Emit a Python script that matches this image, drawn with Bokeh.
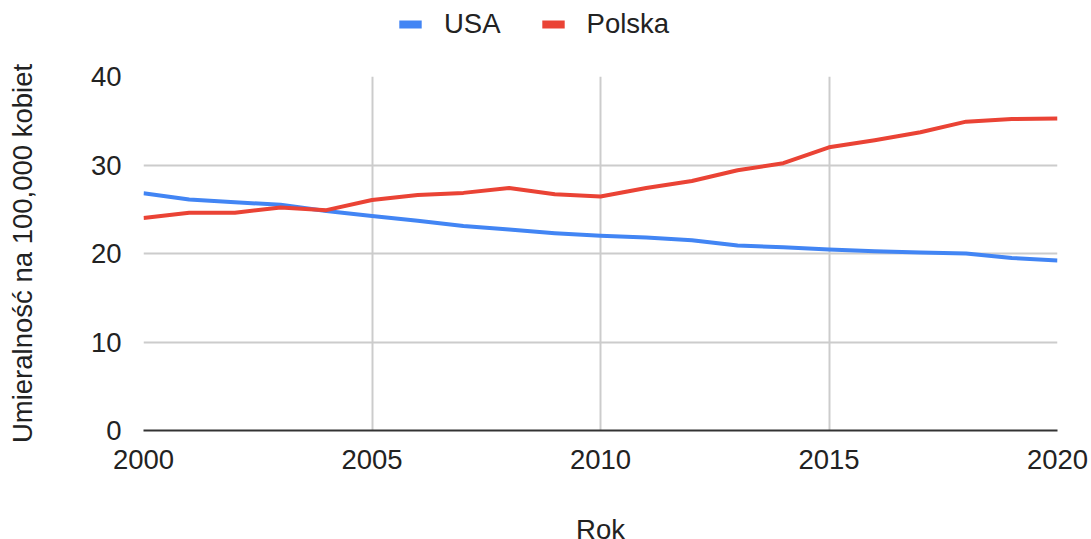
from bokeh.plotting import figure
from bokeh.layouts import column
from bokeh.models import Legend, LegendItem, ColumnDataSource, FixedTicker
from bokeh.embed import file_html
from bokeh.resources import INLINE

years = list(range(2000, 2021))
usa = [26.8, 26.1, 25.8, 25.5, 24.8, 24.25, 23.7, 23.1, 22.7, 22.3, 22.0,
       21.8, 21.5, 20.9, 20.7, 20.45, 20.25, 20.1, 20.0, 19.5, 19.2]
polska = [24.0, 24.6, 24.6, 25.2, 24.9, 26.05, 26.6, 26.85, 27.4, 26.7, 26.45,
          27.4, 28.2, 29.4, 30.2, 32.0, 32.8, 33.7, 34.9, 35.2, 35.25]
series_names = ["USA", "Polska"]
x_ticks = [2000, 2005, 2010, 2015, 2020]
y_ticks = [0, 10, 20, 30, 40]
x_title = "Rok"
y_title = "Umieralność na 100,000 kobiet"

BLUE = "#4285F4"
RED = "#EA4335"
FONT = "Liberation Sans"
FS = "27.5px"
TXT = "#222222"

src = ColumnDataSource(dict(year=years, usa=usa, polska=polska))

# legend strip on top (swatches only; marks lie outside this strip's range)
pl = figure(width=1091, height=56, min_border=0, x_range=(0, 1), y_range=(0, 1),
            x_axis_location=None, y_axis_location=None,
            output_backend="svg", toolbar_location=None)
pl.grid.visible = False
pl.outline_line_color = None
sw_usa = pl.rect("year", "usa", width=0, height=0, source=src,
                 fill_color=BLUE, line_color=None)
sw_pol = pl.rect("year", "polska", width=0, height=0, source=src,
                 fill_color=RED, line_color=None)
legend = Legend(items=[LegendItem(label=series_names[0], renderers=[sw_usa], index=0),
                       LegendItem(label=series_names[1], renderers=[sw_pol], index=0)],
                orientation="horizontal", location=(253, 16),
                glyph_width=28, glyph_height=10, label_standoff=20, spacing=38,
                padding=0, margin=0, border_line_color=None,
                background_fill_alpha=0,
                label_text_font=FONT, label_text_font_size=FS,
                label_text_color=TXT)
pl.add_layout(legend)

# main chart
p = figure(frame_width=914, frame_height=354,
           min_border_left=143, min_border_right=34,
           min_border_top=20, min_border_bottom=109,
           x_range=(2000, 2020), y_range=(0, 40),
           output_backend="svg", toolbar_location=None)

p.line("year", "usa", source=src, line_color=BLUE, line_width=4, line_join="round")
p.line("year", "polska", source=src, line_color=RED, line_width=4, line_join="round")

p.outline_line_color = None
p.background_fill_color = "white"

p.xgrid.ticker = FixedTicker(ticks=x_ticks)
p.ygrid.ticker = FixedTicker(ticks=y_ticks)
p.xgrid.grid_line_color = "#cccccc"
p.ygrid.grid_line_color = "#cccccc"
p.xgrid.grid_line_width = 2
p.ygrid.grid_line_width = 2

p.xaxis.ticker = FixedTicker(ticks=x_ticks)
p.yaxis.ticker = FixedTicker(ticks=y_ticks)
for ax in (p.xaxis[0], p.yaxis[0]):
    ax.major_tick_line_color = None
    ax.minor_tick_line_color = None
    ax.major_label_text_font = FONT
    ax.major_label_text_font_size = FS
    ax.major_label_text_color = TXT
    ax.axis_label_text_font = FONT
    ax.axis_label_text_font_size = FS
    ax.axis_label_text_color = TXT
    ax.axis_label_text_font_style = "normal"

p.xaxis.axis_label = x_title
p.yaxis.axis_label = y_title
p.xaxis.axis_line_color = "#333333"
p.xaxis.axis_line_width = 2
p.yaxis.axis_line_color = None
p.xaxis.major_label_standoff = 13
p.yaxis.major_label_standoff = 16
p.xaxis.axis_label_standoff = 42
p.yaxis.axis_label_standoff = 50

layout = column(pl, p, spacing=0)
open("out.html", "w").write(file_html(layout, INLINE))
